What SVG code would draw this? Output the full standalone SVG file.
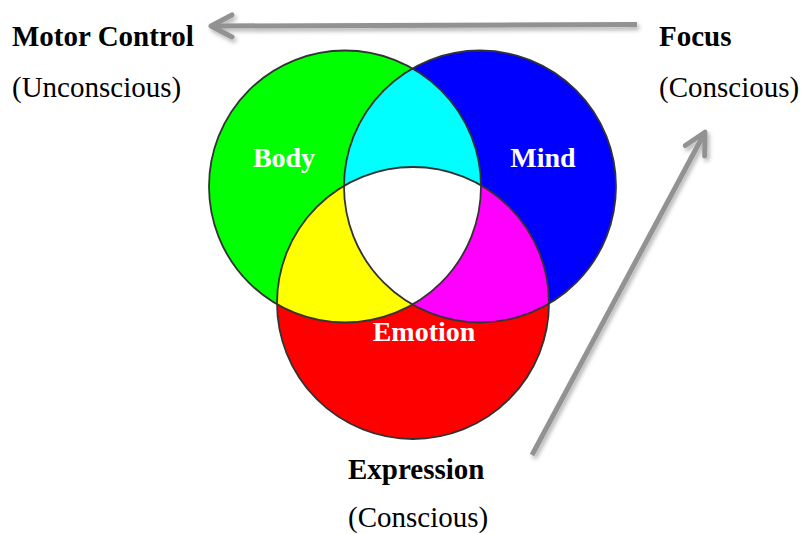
<svg xmlns="http://www.w3.org/2000/svg" width="802" height="534" viewBox="0 0 802 534">
<style>
.lbl{font-size:29px;fill:#000}
.b{font-weight:bold}
.in{font-size:28px;font-weight:bold;fill:#fff;text-anchor:middle}
.edge{stroke:#333;stroke-width:1.8;fill:none}
.arr{stroke:#929292;stroke-width:5;fill:none}
</style>
<defs>
<clipPath id="cG"><circle cx="345" cy="186.5" r="136"/></clipPath>
<clipPath id="cB"><circle cx="480" cy="186.5" r="136"/></clipPath>
<marker id="ah" markerUnits="userSpaceOnUse" markerWidth="40" markerHeight="40" viewBox="-30 -20 40 40" refX="-2" refY="0" orient="auto">
<path d="M-21,-11 L0,0 L-21,11" fill="none" stroke="#929292" stroke-width="5" stroke-linecap="round" stroke-linejoin="round"/>
</marker>
<filter id="sh" filterUnits="userSpaceOnUse" x="0" y="0" width="802" height="534">
<feDropShadow dx="2" dy="3" stdDeviation="2" flood-color="#000" flood-opacity="0.3"/>
</filter>
</defs>
<g id="venn" font-family="Liberation Serif, Times New Roman, serif">
<g id="body"><circle cx="345" cy="186.5" r="136" fill="#00ff00"/></g>
<g id="mind"><circle cx="480" cy="186.5" r="136" fill="#0000ff"/></g>
<g id="emotion"><circle cx="413" cy="303" r="136" fill="#ff0000"/></g>
<g clip-path="url(#cG)"><circle cx="480" cy="186.5" r="136" fill="#00ffff"/><circle cx="413" cy="303" r="136" fill="#ffff00"/></g>
<g clip-path="url(#cB)"><circle cx="413" cy="303" r="136" fill="#ff00ff"/></g>
<g clip-path="url(#cG)"><g clip-path="url(#cB)"><circle cx="413" cy="303" r="136" fill="#ffffff"/></g></g>
<circle class="edge" cx="345" cy="186.5" r="136"/>
<circle class="edge" cx="480" cy="186.5" r="136"/>
<circle class="edge" cx="413" cy="303" r="136"/>
<text class="in" x="284" y="167">Body</text>
<text class="in" x="543" y="167">Mind</text>
<text class="in" x="424" y="341">Emotion</text>
</g>
<g id="connectors" filter="url(#sh)">
<path class="arr" d="M637,24.5 L213,26" marker-end="url(#ah)"/>
<path class="arr" d="M532,455 L704,134" marker-end="url(#ah)"/>
</g>
<g font-family="Liberation Serif, Times New Roman, serif">
<g id="motor-control"><text class="lbl b" x="12" y="46">Motor Control</text><text class="lbl" x="12" y="97">(Unconscious)</text></g>
<g id="focus"><text class="lbl b" x="659" y="46">Focus</text><text class="lbl" x="659" y="97">(Conscious)</text></g>
<g id="expression"><text class="lbl b" x="348" y="479">Expression</text><text class="lbl" x="348" y="527">(Conscious)</text></g>
</g>
</svg>
